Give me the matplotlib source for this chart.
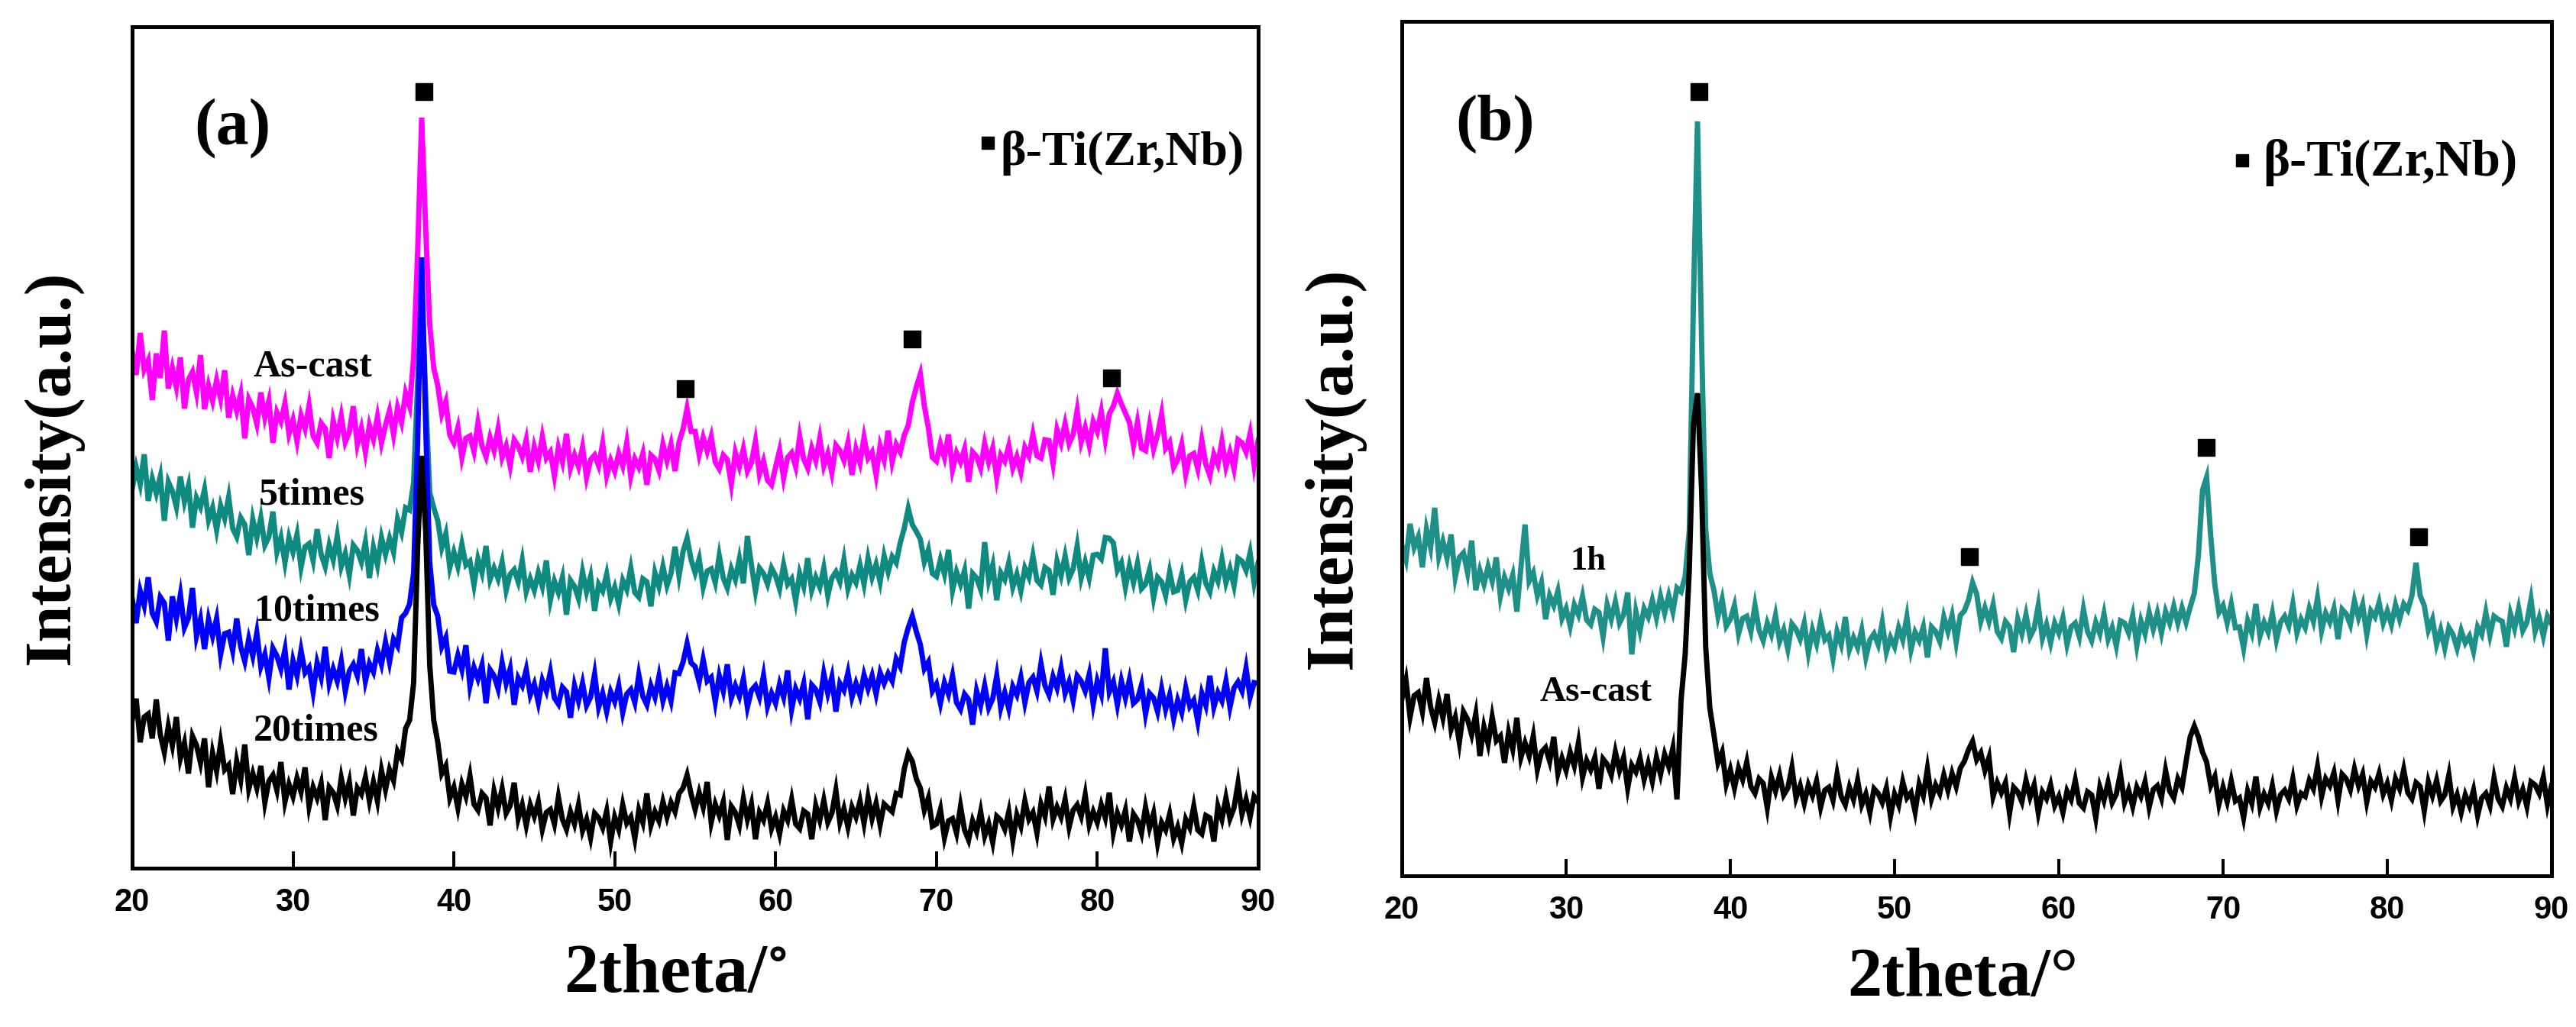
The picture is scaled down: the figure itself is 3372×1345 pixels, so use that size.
import matplotlib
matplotlib.use("Agg")
import matplotlib.pyplot as plt
import numpy as np

plt.rcParams["font.family"] = ["Liberation Serif", "DejaVu Serif"]
plt.rcParams["font.weight"] = "bold"
plt.rcParams["axes.labelweight"] = "bold"
plt.rcParams["mathtext.fontset"] = "stix"

# 2theta grid, 0.25 deg step from 20 to 90 (281 points)
two_theta = np.linspace(20, 90, 281)
tick_values = [20, 30, 40, 50, 60, 70, 80, 90]
tick_labels = ["20", "30", "40", "50", "60", "70", "80", "90"]

# ---- panel (a): intensities (a.u.), one row = 5 deg ----
as_cast_a = [
    677, 646, 701, 653, 665, 613, 674, 642, 704, 628, 655, 630, 669, 602, 640, 650, 623, 672, 601, 632,
    612, 639, 615, 652, 590, 619, 599, 621, 563, 614, 603, 582, 623, 590, 612, 557, 597, 585, 609, 569,
    587, 559, 593, 576, 606, 566, 557, 583, 576, 537, 586, 564, 592, 558, 571, 605, 555, 576, 545, 580,
    562, 591, 557, 580, 599, 568, 603, 584, 622, 605, 669, 807, 983, 837, 712, 655, 632, 595, 611, 567,
    557, 577, 538, 563, 566, 546, 583, 553, 539, 564, 547, 575, 538, 553, 527, 561, 553, 539, 561, 519,
    552, 533, 565, 537, 545, 514, 551, 532, 569, 524, 541, 526, 551, 512, 535, 541, 527, 556, 514, 534,
    520, 543, 527, 557, 513, 536, 525, 543, 502, 541, 536, 521, 555, 534, 555, 520, 558, 575, 602, 572,
    572, 542, 564, 546, 565, 532, 523, 541, 535, 503, 544, 526, 549, 520, 531, 559, 516, 533, 508, 502,
    525, 547, 511, 538, 544, 526, 565, 536, 524, 550, 534, 563, 527, 543, 518, 554, 547, 534, 557, 515,
    549, 531, 564, 537, 545, 515, 553, 535, 573, 532, 555, 545, 567, 580, 610, 630, 647, 605, 577, 538,
    533, 556, 538, 568, 522, 544, 532, 549, 506, 545, 539, 524, 556, 532, 550, 511, 541, 533, 553, 524,
    539, 519, 551, 540, 568, 540, 537, 561, 560, 530, 574, 557, 582, 556, 568, 599, 558, 577, 554, 585,
    572, 598, 562, 595, 605, 622, 608, 596, 584, 554, 584, 550, 547, 580, 549, 568, 595, 550, 558, 525,
    535, 555, 516, 540, 543, 523, 560, 529, 514, 542, 529, 559, 526, 545, 523, 561, 557, 545, 569, 528,
    560,
]
times5_a = [
    497, 525, 503, 542, 481, 510, 491, 513, 455, 506, 494, 473, 513, 480, 501, 446, 485, 473, 496, 456,
    472, 443, 475, 458, 486, 445, 434, 459, 450, 410, 457, 433, 459, 423, 434, 467, 414, 433, 400, 433,
    414, 437, 394, 421, 425, 403, 444, 411, 395, 423, 404, 435, 395, 412, 384, 423, 416, 401, 427, 380,
    420, 397, 433, 411, 432, 414, 457, 440, 472, 469, 505, 637, 759, 617, 492, 472, 455, 420, 438, 394,
    414, 395, 424, 397, 402, 371, 405, 387, 422, 378, 393, 379, 401, 364, 385, 391, 375, 403, 362, 379,
    364, 387, 369, 403, 351, 376, 361, 381, 332, 377, 369, 353, 388, 362, 382, 337, 372, 363, 385, 353,
    368, 346, 377, 365, 393, 361, 355, 379, 375, 343, 387, 369, 395, 370, 386, 421, 383, 415, 432, 404,
    387, 405, 368, 389, 392, 374, 409, 380, 367, 392, 378, 405, 373, 435, 397, 363, 393, 386, 372, 393,
    383, 366, 397, 372, 379, 350, 386, 369, 406, 364, 381, 368, 393, 357, 380, 388, 375, 404, 366, 384,
    374, 397, 372, 406, 381, 398, 375, 409, 388, 408, 400, 426, 445, 471, 450, 441, 431, 401, 417, 386,
    382, 404, 385, 417, 364, 388, 372, 390, 340, 386, 380, 365, 427, 377, 397, 351, 387, 378, 400, 368,
    385, 363, 393, 381, 409, 377, 371, 394, 390, 358, 402, 383, 409, 380, 392, 422, 380, 401, 380, 410,
    411, 405, 433, 432, 426, 390, 400, 368, 396, 374, 399, 366, 372, 391, 354, 381, 375, 357, 388, 362,
    364, 385, 351, 375, 381, 364, 401, 373, 362, 389, 376, 405, 374, 392, 370, 406, 402, 390, 413, 374,
    400,
]
times10_a = [
    353, 321, 363, 344, 381, 334, 323, 355, 347, 298, 356, 327, 358, 315, 328, 367, 304, 326, 287, 326,
    304, 327, 280, 307, 309, 285, 327, 290, 271, 300, 278, 308, 264, 280, 249, 288, 278, 261, 286, 234,
    272, 252, 285, 256, 263, 231, 269, 250, 290, 242, 261, 245, 271, 232, 258, 267, 252, 287, 245, 268,
    257, 285, 267, 296, 270, 300, 291, 328, 334, 346, 387, 560, 800, 580, 400, 345, 330, 290, 302, 258,
    257, 279, 260, 292, 239, 263, 248, 266, 216, 260, 252, 235, 269, 242, 261, 214, 249, 239, 260, 227,
    241, 217, 246, 232, 257, 223, 215, 237, 231, 197, 239, 219, 242, 213, 224, 254, 211, 229, 205, 231,
    218, 239, 204, 228, 234, 217, 253, 225, 214, 239, 224, 251, 219, 238, 219, 256, 255, 270, 294, 269,
    264, 244, 273, 245, 250, 218, 252, 232, 267, 223, 239, 225, 248, 211, 233, 239, 224, 252, 212, 229,
    216, 241, 224, 259, 208, 235, 222, 242, 195, 240, 234, 218, 255, 229, 250, 205, 242, 233, 256, 224,
    242, 226, 253, 235, 252, 228, 256, 242, 255, 245, 274, 264, 296, 315, 330, 310, 293, 261, 270, 232,
    241, 216, 243, 228, 252, 217, 208, 228, 221, 188, 232, 213, 239, 210, 222, 252, 210, 230, 209, 238,
    227, 250, 217, 243, 250, 232, 268, 239, 227, 251, 236, 262, 229, 244, 220, 252, 245, 232, 254, 215,
    245, 228, 288, 231, 244, 214, 245, 223, 247, 216, 221, 240, 202, 229, 223, 205, 235, 208, 227, 196,
    220, 204, 236, 212, 220, 192, 229, 213, 252, 211, 230, 219, 245, 211, 236, 244, 232, 262, 224, 243,
    242,
]
times20_a = [
    194, 222, 165, 198, 202, 170, 221, 175, 152, 186, 161, 198, 144, 164, 124, 173, 161, 138, 170, 106,
    151, 127, 164, 129, 135, 97, 140, 116, 162, 104, 124, 105, 134, 86, 114, 122, 102, 139, 87, 110,
    94, 118, 100, 132, 81, 106, 92, 111, 63, 106, 99, 82, 118, 92, 113, 69, 105, 97, 119, 88,
    113, 88, 128, 103, 129, 115, 153, 143, 183, 194, 243, 420, 540, 440, 266, 194, 165, 124, 134, 92,
    106, 79, 110, 94, 121, 84, 76, 98, 92, 56, 101, 79, 104, 72, 82, 112, 65, 83, 56, 83,
    68, 87, 51, 73, 77, 58, 93, 64, 51, 74, 58, 83, 49, 64, 40, 72, 66, 53, 75, 35,
    67, 51, 83, 59, 67, 39, 76, 60, 98, 56, 74, 62, 87, 67, 86, 74, 98, 105, 122, 97,
    77, 99, 80, 113, 60, 84, 69, 87, 37, 81, 73, 56, 91, 64, 84, 38, 73, 63, 85, 52,
    67, 45, 75, 63, 90, 58, 52, 75, 71, 38, 82, 63, 89, 60, 72, 102, 60, 78, 54, 80,
    67, 88, 59, 93, 65, 85, 57, 84, 79, 74, 98, 96, 130, 150, 140, 117, 105, 76, 92, 55,
    58, 77, 40, 62, 65, 46, 81, 50, 37, 62, 48, 74, 42, 58, 34, 68, 63, 51, 74, 37,
    70, 55, 88, 64, 73, 46, 84, 68, 107, 64, 80, 67, 90, 54, 76, 83, 68, 96, 57, 74,
    60, 83, 66, 99, 47, 72, 57, 76, 35, 71, 63, 46, 80, 53, 72, 33, 60, 50, 71, 39,
    54, 33, 64, 53, 81, 50, 45, 69, 66, 35, 81, 64, 92, 65, 79, 111, 71, 90, 67, 94,
    87,
]

# ---- panel (b) ----
h1_b = [
    433, 414, 461, 430, 444, 404, 454, 430, 482, 418, 438, 416, 447, 391, 417, 423, 397, 439, 374, 400,
    382, 405, 386, 417, 366, 391, 376, 394, 346, 404, 460, 386, 397, 367, 384, 336, 367, 354, 373, 337,
    350, 327, 355, 342, 366, 335, 329, 349, 345, 313, 355, 336, 359, 331, 342, 371, 290, 346, 321, 350,
    339, 361, 338, 366, 344, 367, 346, 377, 372, 392, 452, 750, 988, 700, 454, 396, 374, 340, 362, 327,
    336, 354, 317, 337, 340, 320, 354, 322, 308, 331, 316, 341, 307, 322, 297, 330, 323, 310, 331, 292,
    322, 304, 334, 309, 315, 285, 320, 303, 339, 296, 312, 299, 322, 286, 309, 317, 303, 332, 293, 312,
    300, 325, 309, 339, 296, 319, 308, 326, 286, 326, 320, 307, 339, 320, 341, 306, 341, 347, 361, 384,
    369, 333, 351, 333, 355, 320, 311, 333, 326, 293, 336, 317, 342, 313, 324, 354, 311, 329, 305, 331,
    318, 338, 303, 326, 331, 313, 349, 320, 308, 332, 317, 343, 310, 325, 301, 334, 331, 318, 341, 302,
    334, 317, 345, 323, 344, 318, 346, 331, 353, 331, 351, 332, 352, 370, 420, 505, 522, 445, 381, 345,
    354, 331, 356, 325, 326, 298, 334, 318, 356, 314, 332, 319, 344, 309, 332, 340, 327, 356, 318, 336,
    325, 350, 333, 364, 321, 344, 332, 350, 310, 349, 343, 329, 360, 338, 355, 316, 347, 339, 358, 331,
    347, 329, 355, 336, 356, 348, 367, 410, 367, 354, 322, 336, 303, 322, 298, 325, 316, 298, 321, 305,
    314, 294, 326, 316, 345, 315, 340, 336, 333, 300, 343, 324, 350, 321, 332, 362, 320, 338, 314, 340,
    330,
]
as_cast_b = [
    231, 256, 208, 236, 240, 215, 259, 221, 201, 230, 207, 238, 192, 208, 175, 215, 205, 185, 212, 157,
    195, 173, 208, 177, 183, 148, 188, 166, 207, 155, 174, 157, 183, 139, 162, 168, 150, 182, 134, 154,
    138, 162, 144, 174, 129, 151, 139, 155, 114, 153, 146, 132, 162, 138, 155, 115, 145, 136, 154, 126,
    147, 124, 155, 133, 159, 143, 167, 100, 230, 290, 400, 590, 632, 505, 300, 220, 185, 148, 162, 120,
    139, 115, 141, 126, 149, 117, 108, 127, 121, 89, 129, 111, 132, 106, 115, 142, 102, 118, 95, 119,
    105, 124, 90, 112, 116, 99, 133, 104, 93, 116, 100, 125, 93, 107, 83, 114, 108, 96, 115, 78,
    107, 93, 123, 102, 109, 84, 120, 105, 140, 101, 119, 108, 132, 112, 134, 117, 141, 150, 165, 176,
    152, 161, 138, 155, 104, 122, 109, 122, 82, 116, 110, 97, 125, 103, 119, 83, 110, 101, 119, 92,
    104, 83, 111, 100, 125, 95, 89, 110, 106, 76, 116, 99, 122, 96, 107, 134, 96, 112, 91, 116,
    104, 123, 90, 113, 118, 102, 138, 111, 102, 127, 116, 150, 182, 196, 182, 162, 149, 118, 130, 94,
    116, 97, 124, 98, 102, 76, 111, 95, 130, 90, 107, 95, 118, 85, 106, 112, 101, 127, 92, 108,
    104, 125, 114, 143, 104, 127, 118, 135, 99, 133, 127, 113, 140, 118, 133, 97, 124, 116, 134, 107,
    121, 99, 127, 114, 139, 109, 101, 122, 117, 85, 123, 105, 125, 98, 106, 132, 91, 106, 83, 106,
    92, 112, 79, 102, 108, 92, 128, 101, 91, 115, 101, 128, 98, 113, 91, 123, 119, 108, 129, 93,
    118,
]

series_a = [
    ("As-cast", as_cast_a, "#FF00FF"),
    ("5times", times5_a, "#0E8A80"),
    ("10times", times10_a, "#0000FF"),
    ("20times", times20_a, "#000000"),
]
series_b = [
    ("1h", h1_b, "#1E9088"),
    ("As-cast", as_cast_b, "#000000"),
]

# curve labels (2theta, intensity)
labels_a = [("As-cast", 31.25, 657), ("5times", 31.2, 489), ("10times", 31.5, 337), ("20times", 31.45, 180)]
labels_b = [("1h", 31.35, 412, 32), ("As-cast", 31.8, 240, 34)]

# beta phase peak markers (2theta, intensity)
peaks_a_x = [38.14, 54.38, 68.5, 80.9]
peaks_a_y = [1017, 628, 693, 642]
peaks_b_x = [38.1, 54.56, 68.98, 81.9]
peaks_b_y = [1027, 418, 561, 444]

LINE_W = 5.0


def style_axis(ax, ymax):
    ax.set_xlim(20, 90)
    ax.set_ylim(0, ymax)
    ax.set_xticks(tick_values)
    ax.set_xticklabels(tick_labels, fontfamily="Liberation Sans", fontweight="bold", fontsize=30)
    ax.set_yticks([])
    for spine in ax.spines.values():
        spine.set_linewidth(3.6)
    ax.tick_params(axis="x", direction="in", length=16, width=2.9, pad=18,
                   top=False, bottom=True)


fig = plt.figure(figsize=(33.72, 13.45), dpi=100)
ax_a = fig.add_axes([0.0513, 0.1546, 0.4371, 0.8194])
ax_b = fig.add_axes([0.5442, 0.1472, 0.4463, 0.8320])

# panel (a)
for name, vals, col in series_a:
    ax_a.plot(two_theta, vals, color=col, lw=LINE_W, solid_joinstyle="miter")
ax_a.plot(peaks_a_x, peaks_a_y, "s", color="k", ms=16)
for text, x, y in labels_a:
    ax_a.text(x, y, text, fontsize=36, ha="center", va="center")
style_axis(ax_a, 1102)
ax_a.text(0.089, 0.879, "(a)", transform=ax_a.transAxes, fontsize=62, ha="center", va="center")
ax_a.plot([0.760], [0.862], "s", color="k", ms=11, transform=ax_a.transAxes)
ax_a.text(0.771, 0.850, "β-Ti(Zr,Nb)", transform=ax_a.transAxes, fontsize=46,
          ha="left", va="center")
ax_a.set_ylabel("Intensity(a.u.)", fontsize=62, fontweight="bold")
ax_a.yaxis.set_label_coords(-0.043, 0.476)
ax_a.set_xlabel(r"2theta/$^{\circ}$", fontsize=65, fontweight="bold")
ax_a.xaxis.set_label_coords(0.482, -0.090)

# panel (b)
for name, vals, col in series_b:
    ax_b.plot(two_theta, vals, color=col, lw=LINE_W, solid_joinstyle="miter")
ax_b.plot(peaks_b_x, peaks_b_y, "s", color="k", ms=16)
for text, x, y, fs in labels_b:
    ax_b.text(x, y, text, fontsize=fs, ha="center", va="center")
style_axis(ax_b, 1119)
ax_b.text(0.081, 0.880, "(b)", transform=ax_b.transAxes, fontsize=61, ha="center", va="center")
ax_b.plot([0.731], [0.837], "s", color="k", ms=11, transform=ax_b.transAxes)
ax_b.text(0.749, 0.835, "β-Ti(Zr,Nb)", transform=ax_b.transAxes, fontsize=48,
          ha="left", va="center")
ax_b.set_ylabel("Intensity(a.u.)", fontsize=63, fontweight="bold")
ax_b.yaxis.set_label_coords(-0.032, 0.477)
ax_b.set_xlabel("2theta/°", fontsize=65, fontweight="bold")
ax_b.xaxis.set_label_coords(0.488, -0.084)

fig.savefig("out.png", dpi=100, facecolor="white")
